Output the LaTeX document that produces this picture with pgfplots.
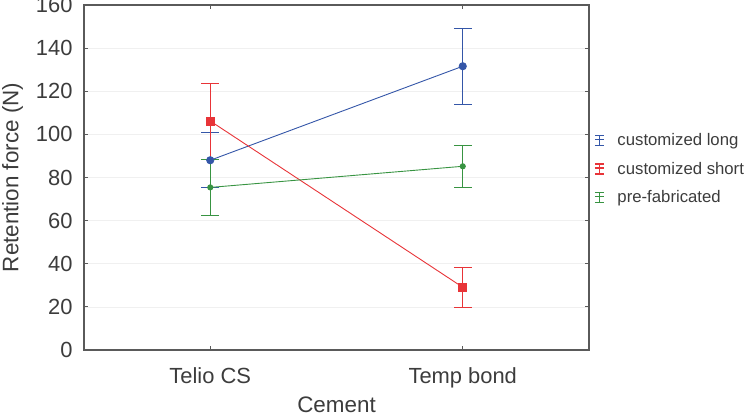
\documentclass[border=0pt]{standalone}
\usepackage{fontspec}
\setmainfont{Liberation Sans}
\usepackage{pgfplots}
\pgfplotsset{compat=1.18}
\definecolor{cblue}{RGB}{52,86,168}
\definecolor{cred}{RGB}{232,52,56}
\definecolor{cgreen}{RGB}{56,148,66}
\definecolor{txt}{RGB}{60,60,60}
\definecolor{axc}{RGB}{90,90,90}
\begin{document}
\begin{tikzpicture}
\begin{axis}[
  scale only axis,
  width=505bp, height=345bp,
  xmin=-0.5, xmax=1.5,
  ymin=0, ymax=160,
  xtick={0,1},
  xticklabels={Telio CS, Temp bond},
  ytick={0,20,...,160},
  tick align=inside,
  major tick length=4bp,
  tick style={axc, line width=0.8bp},
  axis line style={axc, line width=1.2bp},
  ymajorgrids,
  grid style={black!6, line width=0.6bp},
  /pgf/number format/assume math mode=true,
  tick label style={font=\fontsize{22}{25}\selectfont, text=txt},
  yticklabel style={xshift=-8bp},
  xticklabel style={yshift=-14bp},
  label style={font=\fontsize{22.5}{26}\selectfont, text=txt},
  xlabel={Cement},
  ylabel={Retention force (N)},
  xlabel style={yshift=-2bp},
  ylabel style={yshift=6bp},
  legend style={at={(1,0.525)}, anchor=west, draw=none, fill=none,
    font=\fontsize{16.8}{20}\selectfont, row sep=11bp, column sep=11bp,
    xshift=2bp},
  legend cell align=left,
  legend image code/.code={
    \draw[#1, line width=1.3bp] (0bp,-5bp) -- (0bp,5bp);
    \draw[#1, line width=1.3bp] (-4.5bp,-5bp) -- (4.5bp,-5bp);
    \draw[#1, line width=1.3bp] (-4.5bp,5bp) -- (4.5bp,5bp);
    \draw[#1, line width=1.3bp] (-4.5bp,1bp) -- (4.5bp,1bp);
  },
  error bars/error bar style={line width=0.9bp},
  error bars/error mark options={rotate=90, mark size=9bp, line width=0.9bp},
]
\addplot[color=cblue, line width=0.9bp, mark=*, mark size=3.6bp,
  error bars/.cd, y dir=both, y explicit]
  table[x=x, y=y, y error=e] {
x y e
0 88.0 12.7
1 131.6 17.7
};
\addlegendentry{\textcolor{txt}{customized long}}
\addplot[color=cred, line width=0.9bp, mark=square*, mark size=4bp,
  error bars/.cd, y dir=both, y explicit]
  table[x=x, y=y, y error=e] {
x y e
0 106.2 17.6
1 29.1 9.4
};
\addlegendentry{\textcolor{txt}{customized short}}
\addplot[color=cgreen, line width=0.9bp, mark=*, mark size=2.6bp,
  error bars/.cd, y dir=both, y explicit]
  table[x=x, y=y, y error=e] {
x y e
0 75.4 13.2
1 85.2 9.7
};
\addlegendentry{\textcolor{txt}{pre-fabricated}}
\end{axis}
\pgfresetboundingbox
\path (current axis.south west) ++(-84bp,-69bp) rectangle ++(745bp,419bp);
\end{tikzpicture}
\end{document}
